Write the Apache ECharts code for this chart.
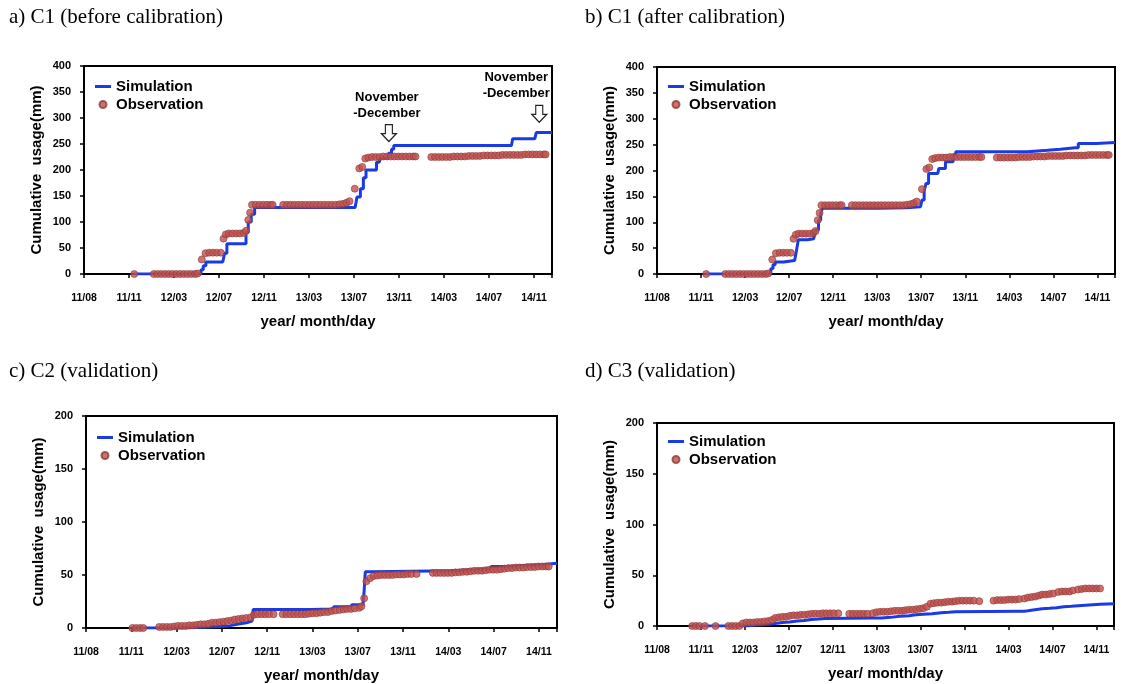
<!DOCTYPE html>
<html>
<head>
<meta charset="utf-8">
<script src="https://cdn.jsdelivr.net/npm/echarts@6/dist/echarts.min.js"></script>
<style>
html,body{margin:0;padding:0;background:#fff;}
#chart{width:1124px;height:684px;}
</style>
</head>
<body>
<div id="chart"></div>
<script>
// ---- data (x = days since 2011-08-01, y = cumulative usage in mm) ----
const tickLabels = ['11/08','11/11','12/03','12/07','12/11','13/03','13/07','13/11','14/03','14/07','14/11'];
const panelTitles = ['a) C1 (before calibration)','b) C1 (after calibration)','c) C2 (validation)','d) C3 (validation)'];
const seriesNames = ['Simulation','Observation'];
const xAxisName = 'year/ month/day';
const yAxisName = 'Cumulative  usage(mm)';
const noteText = 'November\n-December';

const simC1Before = [[134,0],[306,0],[312,8],[318,16],[325,23],[370,23],[375,40],[381,58],[426,58],[432,80],[438,100],[446,115],[455,128],[723,128],[728,148],[737,164],[745,185],[752,200],[774,200],[780,215],[787,215],[791,223],[806,223],[812,232],[820,240],[826,247],[1140,247],[1143,260],[1202,260],[1206,272],[1248,272]];

const simC1After = [[132,0],[304,0],[310,10],[316,18],[322,23],[345,23],[348,26],[375,26],[380,45],[385,66],[410,66],[414,68],[427,68],[432,85],[440,104],[446,118],[451,127],[600,127],[604,128],[680,128],[684,130],[718,130],[722,143],[728,160],[733,175],[740,194],[765,194],[768,204],[780,204],[786,217],[800,217],[807,230],[814,236],[1010,236],[1013,239],[1064,239],[1068,241],[1099,241],[1102,244],[1140,244],[1148,252],[1197,252],[1200,254],[1248,254]];

const obsC1 = [[134,0],
[186,0],[196,0],[206,0],[216,0],[226,0],[236,0],[246,0],[256,0],[266,0],[276,0],[286,0],[296,0],[303,1],
[314,28],[324,40],[334,41],[344,41],[354,41],[365,41],
[372,68],[378,76],[386,78],[396,78],[406,78],[416,78],[426,79],
[432,83],[438,104],[443,118],[448,133],[458,133],[468,133],[478,133],[488,133],[498,133],[503,133],
[531,133],[541,133],[551,133],[561,133],[571,133],[581,133],[591,133],[601,133],[611,133],[621,133],[631,133],[641,133],[651,133],[661,133],[671,133],[681,134],[691,135],[700,137],[708,140],
[722,164],[734,203],[742,206],[750,222],[758,224],[768,225],[778,225],[788,225],[798,226],[808,226],[818,226],[828,226],[838,226],[848,226],[858,226],[868,226],[878,226],[884,226],
[926,225],[936,225],[946,225],[956,225],[966,225],[976,225],[986,226],[996,226],[1006,226],[1016,226],[1026,227],[1036,227],[1046,227],[1056,227],[1066,228],[1076,228],[1086,228],[1096,228],[1106,228],[1116,229],[1126,229],[1136,229],[1146,229],[1156,229],[1166,229],[1176,230],[1186,230],[1196,230],[1206,230],[1216,230],[1226,230],[1231,230]];

const simC2 = [[123,0],[250,0],[255,1],[330,1],[335,2],[380,2],[385,3.5],[400,3.5],[405,5],[425,5],[430,6.5],[440,7],[443,17.5],[597,17.5],[600,18],[653,18],[657,20],[701,20],[705,22],[734,22],[737,35],[740,53],[760,53],[764,54],[966,54],[970,55],[1032,55],[1036,56],[1070,56],[1074,58],[1117,58],[1121,59],[1164,59],[1168,60],[1212,60],[1216,61],[1248,61]];

const obsC2 = [[123,0],[133,0],[143,0],[152,0],
[194,1],[204,1],[214,1],[224,1],[234,1.5],[244,2],[254,2],[264,2],[274,2.5],[284,2.5],[294,3],[304,3.5],[314,3.5],[324,4],[334,5],[344,5],[354,5.5],[364,6],[374,6.5],[384,7],[394,8],[404,8.5],[414,9],[424,9.5],[436,10],
[445,12.5],[455,13],[465,13],[475,13],[485,13],[497,13],
[521,13],[531,13],[541,13],[551,13],[561,13],[571,13],[581,13],[591,13.5],[601,14],[611,14],[621,14.5],[631,15],[641,15],[651,16],[661,16.5],[672,17],[682,17.5],[692,18],[702,18],[712,18.5],[724,19],[730,20.5],
[737,28],[743,44],[753,47],[762,49],[772,49.5],[782,50],[792,50],[802,50],[812,50],[822,50.5],[832,50.5],[842,50.5],[852,51],[862,51],[876,51],
[919,52],[929,52],[939,52],[949,52],[959,52],[969,52],[979,52.5],[989,52.5],[999,53],[1009,53],[1019,53.5],[1029,54],[1039,54],[1049,54],[1059,54.5],[1069,55],[1079,55],[1089,55],[1099,55.5],[1109,56],[1119,56.5],[1129,56.5],[1139,57],[1149,57],[1159,57],[1169,57.5],[1179,57.5],[1189,57.5],[1199,58],[1209,58],[1219,58],[1226,58]];

const simC3 = [[92,0],[225,0],[244,1],[270,1.5],[303,2.5],[323,3.5],[342,4],[362,5],[382,5.5],[402,6.5],[421,7],[441,7.5],[460,8],[589,8],[613,8.5],[638,9.5],[663,10],[688,11],[707,11.5],[727,12],[751,13],[776,13.5],[796,14],[815,14.5],[993,14.5],[1003,15],[1013,16],[1032,17],[1052,17.5],[1072,18],[1091,19],[1111,19.5],[1131,20],[1150,20.5],[1170,21],[1190,21.5],[1210,22],[1248,22]];

const obsC3 = [[96,0],[106,0],[116,0],[131,0],[160,0],[195,0],[205,0],[215,0],[225,0],
[234,2.5],[244,3.5],[254,3.5],[264,3.5],[274,4],[284,4],[294,4.5],[304,5],[314,6],
[323,8],[333,8.5],[343,9],[353,9],[363,10],[373,10.5],[383,10.5],[393,11],[403,11],[413,11.5],[423,12],[433,12],[443,12],[453,12.5],[463,12.5],[473,12.5],[483,12.5],[495,12.5],
[525,12],[535,12],[545,12],[555,12],[565,12],[575,12],[589,12.5],[599,13.5],[609,14],[619,14],[629,14],[639,14.5],[649,15],[659,15],[669,15],[678,15.5],[688,16],[698,16],[708,16.5],[718,17],[727,17.5],[737,19],[747,22],[756,22.5],[766,23],[776,23],[786,23.5],[796,24],[806,24],[815,24.5],[825,25],[835,25],[845,25],[855,25],[865,25],[880,24.5],
[919,25],[929,25.5],[939,25.5],[949,25.5],[959,26],[969,26],[979,26],[989,26.5],[1003,27],[1013,28],[1023,28.5],[1033,29],[1043,30],[1052,31],[1062,31],[1072,31.5],[1082,32],[1096,33.5],[1106,34],[1116,34],[1126,34],[1136,35],[1150,36],[1160,36.5],[1170,37],[1180,37],[1190,37],[1200,37],[1210,37]];

// annotation anchors (data space) for panel a
const notesA = [[813,271],[1214,308]];

// ---- layout / style ----
const SANS = "'Liberation Sans', Arial, sans-serif";
const SERIF = "'Liberation Serif', 'Times New Roman', serif";
const BLUE = '#1a3ae6';
const RED = '#c0504d';
const X_MAX = 1248, X_INT = 120;

const panels = [
  {grid:{left:84, top:66, width:468, height:208}, yMax:400, sim:simC1Before, obs:obsC1, title:{left:9, top:7}, legend:{left:95, top:79}, notes:notesA},
  {grid:{left:657, top:67, width:458, height:207}, yMax:400, sim:simC1After, obs:obsC1, title:{left:585, top:7}, legend:{left:668, top:79}},
  {grid:{left:86, top:416, width:471, height:213}, yMax:200, sim:simC2, obs:obsC2, title:{left:9, top:361}, legend:{left:97, top:430}},
  {grid:{left:657, top:423, width:457, height:203}, yMax:200, sim:simC3, obs:obsC3, title:{left:585, top:361}, legend:{left:668, top:434}}
];

const option = {
  animation:false,
  backgroundColor:'#fff',
  title:[], legend:[], grid:[], xAxis:[], yAxis:[], series:[]
};

panels.forEach((p, i) => {
  option.title.push({
    text: panelTitles[i], left:p.title.left, top:p.title.top, padding:0,
    textStyle:{fontFamily:SERIF, fontSize:21, fontWeight:'normal', color:'#000'}
  });
  option.legend.push({
    data: [
      {name:seriesNames[0], icon:'path://M0,0H16V3H0Z', symbolKeepAspect:true},
      {name:seriesNames[1], icon:'circle'}
    ],
    orient:'vertical', left:p.legend.left, top:p.legend.top,
    itemWidth:16, itemHeight:7, itemGap:3, padding:0, selectedMode:false,
    textStyle:{fontFamily:SANS, fontSize:15, fontWeight:'bold', color:'#000'}
  });
  option.grid.push(Object.assign({show:true, borderColor:'#000', borderWidth:2, backgroundColor:'transparent'}, p.grid));
  option.xAxis.push({
    type:'value', gridIndex:i, min:0, max:X_MAX, interval:X_INT,
    axisLine:{show:true, onZero:false, lineStyle:{color:'#000', width:2}},
    axisTick:{show:true, length:4, lineStyle:{color:'#000', width:1.5}},
    axisLabel:{margin:19, color:'#000', fontFamily:SANS, fontSize:10.5, fontWeight:'bold',
      formatter:(v) => (v % X_INT === 0 && tickLabels[v / X_INT] !== undefined) ? tickLabels[v / X_INT] : ''},
    splitLine:{show:false},
    name:xAxisName, nameLocation:'middle', nameGap:40,
    nameTextStyle:{fontFamily:SANS, fontSize:15, fontWeight:'bold', color:'#000'}
  });
  option.yAxis.push({
    type:'value', gridIndex:i, min:0, max:p.yMax, interval:50,
    axisLine:{show:true, lineStyle:{color:'#000', width:2}},
    axisTick:{show:true, length:4, lineStyle:{color:'#000', width:1.5}},
    axisLabel:{margin:13, color:'#000', fontFamily:SANS, fontSize:11, fontWeight:'bold'},
    splitLine:{show:false},
    name:yAxisName, nameLocation:'middle', nameGap:40,
    nameTextStyle:{fontFamily:SANS, fontSize:15, fontWeight:'bold', color:'#000'}
  });
  const line = {
    type:'line', name:seriesNames[0], xAxisIndex:i, yAxisIndex:i, data:p.sim, step:'end',
    symbol:'none', showSymbol:false, lineStyle:{color:BLUE, width:3}, itemStyle:{color:BLUE}, z:2
  };
  if (p.notes) {
    line.markPoint = {
      symbol:'path://M4,0 L11,0 L11,9 L15,9 L7.5,17 L0,9 L4,9 Z',
      symbolSize:[15,17],
      itemStyle:{color:'#fff', borderColor:'#222', borderWidth:1.2},
      label:{show:true, position:'top', distance:3, formatter:noteText, color:'#000',
        fontFamily:SANS, fontSize:13, fontWeight:'bold', lineHeight:16},
      data:p.notes.map((c, k) => ({coord:c, label:{offset:[k === 1 ? -23 : -2, 0]}}))
    };
  }
  option.series.push(line);
  option.series.push({
    type:'scatter', name:seriesNames[1], xAxisIndex:i, yAxisIndex:i, data:p.obs,
    symbol:'circle', symbolSize:7,
    itemStyle:{color:RED, borderColor:'#8e3b37', borderWidth:0.8}, z:3
  });
});

const chart = echarts.init(document.getElementById('chart'), null, {renderer:'canvas'});
chart.setOption(option);
</script>
</body>
</html>
